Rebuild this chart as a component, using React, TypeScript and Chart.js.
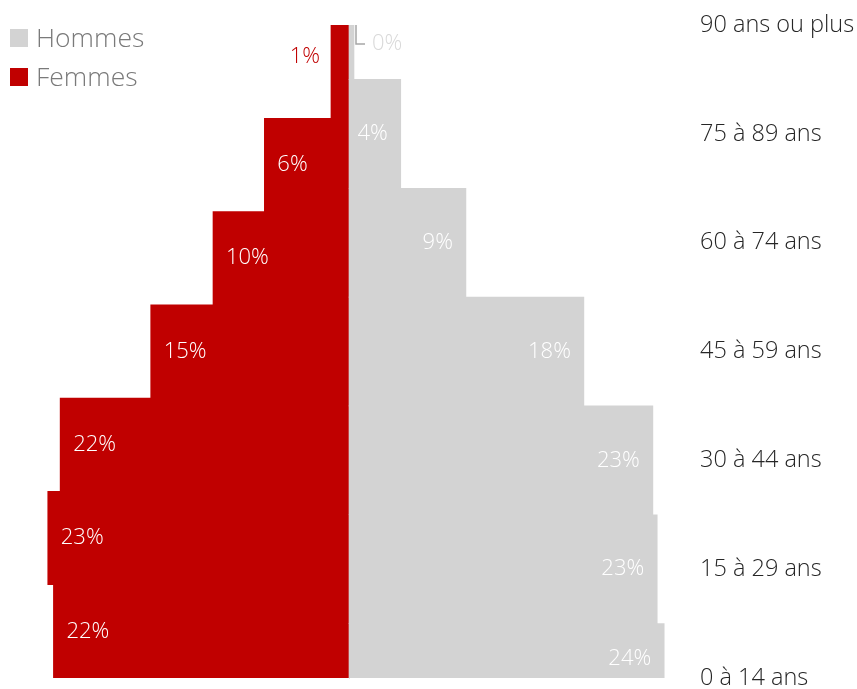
import React, { useEffect, useRef } from 'react';
import { Chart, registerables } from 'chart.js';

Chart.register(...registerables);

// ---- Data ----
const ageGroups = [
  '90 ans ou plus',
  '75 à 89 ans',
  '60 à 74 ans',
  '45 à 59 ans',
  '30 à 44 ans',
  '15 à 29 ans',
  '0 à 14 ans',
];
const hommes = [0.38, 3.93, 8.88, 17.84, 23.08, 23.41, 23.94];
const femmes = [1.37, 6.43, 10.33, 15.06, 21.94, 22.88, 22.45];
const seriesNames = ['Hommes', 'Femmes'];
const seriesColors = ['#d3d3d3', '#c00000'];
const xMin = -25.9;
const xMax = 25.9;

const FONT = '"Open Sans", "Noto Sans", sans-serif';

const labelsPlugin = {
  id: 'pyramidLabels',
  afterDatasetsDraw(chart: any) {
    const { ctx, chartArea } = chart;
    ctx.save();
    ctx.font = `300 22px ${FONT}`;
    ctx.textBaseline = 'middle';
    chart.data.datasets.forEach((ds: any, di: number) => {
      const meta = chart.getDatasetMeta(di);
      meta.data.forEach((bar: any, i: number) => {
        const v = Math.abs(ds.data[i]);
        const text = Math.round(v) + '%';
        const tw = ctx.measureText(text).width;
        const { x, base, y } = bar.getProps(['x', 'base', 'y'], true);
        const len = Math.abs(x - base);
        const dir = x < base ? -1 : 1;
        const ly = Math.min(Math.max(y, chartArea.top + 19), chartArea.bottom - 19);
        const inside = len > tw + 12;
        if (inside) {
          ctx.fillStyle = '#ffffff';
          if (dir < 0) {
            ctx.textAlign = 'left';
            ctx.fillText(text, x + 13, ly);
          } else {
            ctx.textAlign = 'right';
            ctx.fillText(text, x - 13, ly);
          }
        } else if (dir < 0) {
          ctx.fillStyle = ds.backgroundColor;
          ctx.textAlign = 'right';
          ctx.fillText(text, x - 11, ly - 15);
        } else {
          ctx.strokeStyle = '#a6a6a6';
          ctx.lineWidth = 1.5;
          ctx.beginPath();
          ctx.moveTo(x + 2, chartArea.top);
          ctx.lineTo(x + 2, ly);
          ctx.lineTo(x + 11, ly);
          ctx.stroke();
          ctx.fillStyle = '#d9d9d9';
          ctx.textAlign = 'left';
          ctx.fillText(text, x + 18, ly);
        }
      });
    });
    ctx.restore();
  },
};

const legendPlugin = {
  id: 'cornerLegend',
  afterDraw(chart: any) {
    const { ctx } = chart;
    ctx.save();
    ctx.font = `300 26.5px ${FONT}`;
    ctx.textBaseline = 'middle';
    ctx.textAlign = 'left';
    chart.data.datasets.forEach((ds: any, i: number) => {
      const cy = 38 + i * 39;
      ctx.fillStyle = ds.backgroundColor;
      ctx.fillRect(10, cy - 9, 18, 18);
      ctx.fillStyle = '#7a7a7a';
      ctx.fillText(ds.label, 36, cy + 1);
    });
    ctx.restore();
  },
};

export default function App() {
  const canvasRef = useRef<HTMLCanvasElement | null>(null);

  useEffect(() => {
    if (!canvasRef.current) return;
    const chart = new Chart(canvasRef.current, {
      type: 'bar',
      data: {
        labels: ageGroups,
        datasets: [
          {
            label: seriesNames[0],
            data: hommes,
            backgroundColor: seriesColors[0],
            yAxisID: 'yH',
            xAxisID: 'x',
            grouped: false,
            barPercentage: 1,
            categoryPercentage: 1,
            clip: 0,
          },
          {
            label: seriesNames[1],
            data: femmes.map((v) => -v),
            backgroundColor: seriesColors[1],
            yAxisID: 'yF',
            xAxisID: 'x',
            grouped: false,
            barPercentage: 1,
            categoryPercentage: 1,
            clip: 0,
          },
        ],
      },
      options: {
        indexAxis: 'y',
        animation: false,
        responsive: true,
        maintainAspectRatio: false,
        layout: { padding: { left: 8, top: 25, right: 0, bottom: 11 } },
        plugins: {
          legend: { display: false },
          tooltip: { enabled: false },
        },
        scales: {
          x: { type: 'linear', min: xMin, max: xMax, display: false },
          yF: {
            type: 'category',
            labels: ageGroups,
            offset: true,
            display: false,
          },
          yH: {
            type: 'category',
            labels: ageGroups,
            offset: false,
            position: 'right',
            grid: { display: false, drawTicks: false },
            border: { display: false },
            ticks: {
              autoSkip: false,
              maxRotation: 0,
              padding: 10,
              color: '#262626',
              font: { family: FONT, size: 23.5, weight: '300' },
            },
            afterFit: (s: any) => {
              s.width = 167;
              s.paddingTop = 0;
              s.paddingBottom = 0;
            },
          },
          yMid: {
            type: 'category',
            labels: ageGroups,
            offset: false,
            position: { x: 0 },
            z: 1,
            ticks: { display: false },
            grid: {
              drawOnChartArea: false,
              drawTicks: true,
              tickLength: 8,
              lineWidth: 1,
              color: (c: any) =>
                c.index === 0 || c.index === ageGroups.length - 1 ? 'rgba(0,0,0,0)' : '#e6e6e6',
            },
            border: { display: true, color: '#e6e6e6', width: 1 },
          },
        },
      } as any,
      plugins: [labelsPlugin, legendPlugin],
    });
    return () => chart.destroy();
  }, []);

  return (
    <div style={{ position: 'fixed', left: 0, top: 0, width: 857, height: 689, background: '#fff' }}>
      <canvas ref={canvasRef} />
    </div>
  );
}
